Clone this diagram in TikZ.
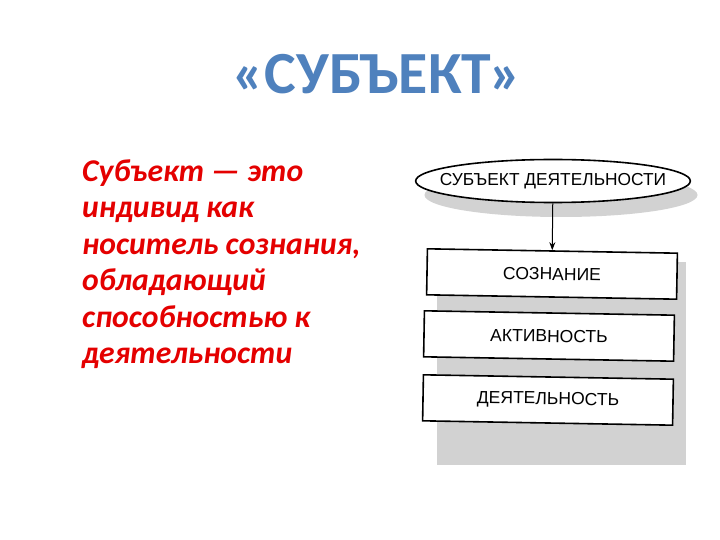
\documentclass[tikz,border=0pt]{standalone}
\usepackage{fontspec}
\setmainfont{Carlito}
\newfontfamily\arialf{Liberation Sans}
\usetikzlibrary{shapes.geometric,arrows.meta}
\definecolor{titleblue}{RGB}{79,129,189}
\definecolor{defred}{RGB}{228,0,0}
\definecolor{shadegray}{RGB}{210,210,210}
\begin{document}
\begin{tikzpicture}[x=1bp,y=-1bp,
  titletext/.style={font=\fontsize{60}{70}\selectfont\bfseries, text=titleblue, inner sep=0pt},
  deftext/.style={font=\fontsize{31.8}{38}\selectfont\bfseries\itshape, text=defred, inner sep=0pt, anchor=base west},
  ovalbox/.style={ellipse, draw=black, line width=1.6bp, fill=white, minimum width=273bp, minimum height=43bp, inner xsep=-16bp, inner ysep=0pt, font=\arialf\fontsize{17.4}{20}\selectfont},
  levelbox/.style={rectangle, draw=black, line width=1.6bp, fill=white, minimum width=250bp, minimum height=46bp, inner sep=0pt, font=\arialf\fontsize{17.6}{20}\selectfont, rotate=-1},
  arr/.style={-{Stealth[length=8bp,width=6bp]}, line width=1bp},
  shadowfill/.style={fill=shadegray, draw=none}
]
\useasboundingbox (0,0) rectangle (720,540);
% title
\node[titletext, anchor=base] (title) at (377,94) {«СУБЪЕКТ»};
% definition
\node[deftext] (d1) at (82,182) {Субъект — это};
\node[deftext] (d2) at (82,218) {индивид как};
\node[deftext] (d3) at (82,255) {носитель сознания,};
\node[deftext] (d4) at (82,290) {обладающий};
\node[deftext] (d5) at (82,327) {способностью к};
\node[deftext] (d6) at (82,363) {деятельности};
% shadows
\fill[shadowfill] (561,195) ellipse [x radius=136.5, y radius=22];
\fill[shadowfill] (437,262) rectangle (686,465);
% diagram
\node[ovalbox] (subj) at (553,181) {СУБЪЕКТ ДЕЯТЕЛЬНОСТИ};
\node[levelbox] (b1) at (552,274) {СОЗНАНИЕ};
\node[levelbox] (b2) at (549,336) {АКТИВНОСТЬ};
\node[levelbox] (b3) at (548,400) {ДЕЯТЕЛЬНОСТЬ};
\draw[arr] (subj) -- (b1);
\end{tikzpicture}
\end{document}
